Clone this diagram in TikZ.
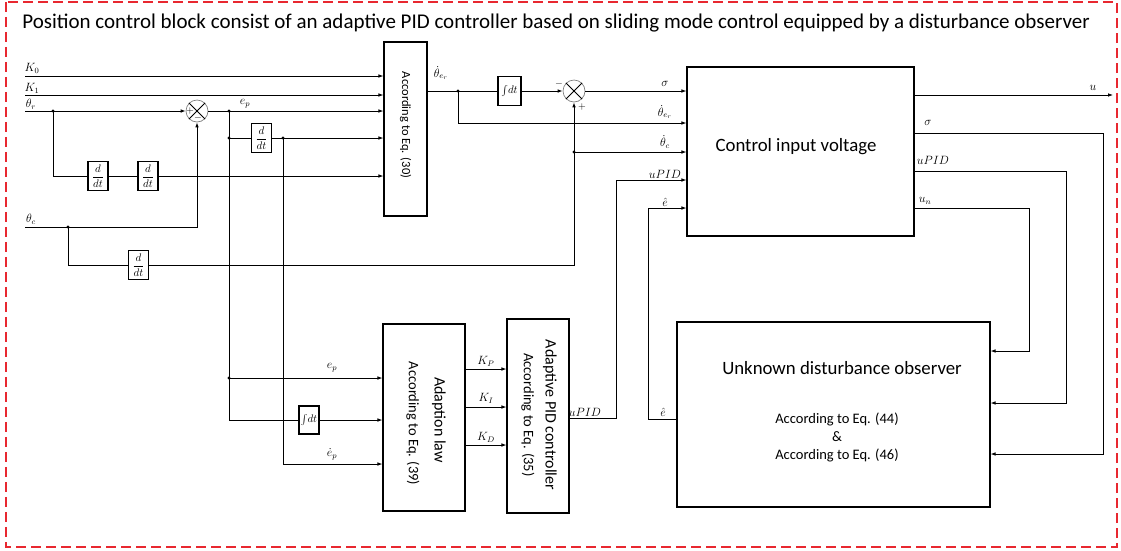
\documentclass[tikz,border=0pt]{standalone}
\usepackage{fontspec}
\setmainfont{Carlito}
\usetikzlibrary{arrows.meta,positioning}
\definecolor{framered}{RGB}{232,40,48}

\begin{document}
\begin{tikzpicture}[
    x=1pt, y=-1pt,
    line width=0.8pt,
    arr/.style={-{Latex[length=5pt,width=3.6pt]}},
    blk/.style={draw, line width=1.1pt, inner sep=0pt},
    opbox/.style={draw, line width=1.1pt, inner sep=0pt, minimum width=20pt,
        minimum height=29pt, font=\fontsize{11}{13}\selectfont},
    summer/.style={draw=gray, line width=0.7pt, circle, minimum size=22pt, inner sep=0pt},
    lbl/.style={inner sep=0pt, font=\fontsize{11.5}{13}\selectfont},
    sgn/.style={inner sep=0pt, font=\fontsize{10}{12}\selectfont},
    vtxt/.style={rotate=-90, inner sep=0pt}
]

\useasboundingbox (0,0) rectangle (1121,550);
\draw[framered, dash pattern=on 10pt off 5pt, line width=1.5pt] (6,2) rectangle (1117,547);

\node[anchor=west, inner sep=0pt, font=\fontsize{21}{25}\selectfont] (title) at (22,23)
    {Position control block consist of an adaptive PID controller based on sliding mode control equipped by a disturbance observer};


\node[blk, minimum width=43pt, minimum height=174pt] (eq30) at (405.5,129) {};
\node[vtxt, font=\fontsize{12.5}{15}\selectfont] (eq30T) at (405.5,125) {According to Eq. (30)};

\node[blk, minimum width=227pt, minimum height=169pt] (cv) at (800.5,151.5) {};
\node[inner sep=0pt, font=\fontsize{18.8}{22}\selectfont] (cvT) at (796,147) {Control input voltage};

\node[blk, minimum width=313pt, minimum height=185pt] (obs) at (833.5,414.5) {};
\node[inner sep=0pt, font=\fontsize{18.8}{22}\selectfont] (obsT) at (842,368) {Unknown disturbance observer};
\node[inner sep=0pt, align=center, font=\fontsize{14.5}{18}\selectfont] (obsS) at (837,437)
    {According to Eq. (44)\\\&\\According to Eq. (46)};

\node[blk, minimum width=82pt, minimum height=187pt] (adl) at (424,417.5) {};
\node[vtxt, font=\fontsize{16}{19}\selectfont] (adlT) at (439,420) {Adaption law};
\node[vtxt, font=\fontsize{14.5}{17}\selectfont] (adlS) at (413,423.5) {According to Eq. (39)};

\node[blk, minimum width=62pt, minimum height=194pt] (apid) at (538,416) {};
\node[vtxt, font=\fontsize{16}{19}\selectfont] (apidT) at (550,415) {Adaptive PID controller};
\node[vtxt, font=\fontsize{14.5}{17}\selectfont] (apidS) at (528,415) {According to Eq. (35)};


\node[opbox] (dd1) at (98,176) {$\displaystyle\frac{d}{dt}$};
\node[opbox] (dd2) at (148,176) {$\displaystyle\frac{d}{dt}$};
\node[opbox] (dd3) at (138.5,265) {$\displaystyle\frac{d}{dt}$};
\node[opbox] (dd4) at (261.5,138) {$\displaystyle\frac{d}{dt}$};
\node[opbox, minimum width=23pt] (int1) at (509.5,91) {$\int\! dt$};
\node[opbox, minimum height=28pt] (int2) at (309,420) {$\int\! dt$};


\node[summer] (s1) at (197,111) {};
\draw (s1.north west) -- (s1.south east) (s1.north east) -- (s1.south west);
\node[sgn] (s1p) at (190,111) {$+$};
\node[sgn] (s1m) at (198,118) {$-$};

\node[summer] (s2) at (574,91) {};
\draw (s2.north west) -- (s2.south east) (s2.north east) -- (s2.south west);
\node[sgn] (s2m) at (559,84) {$-$};
\node[sgn] (s2p) at (582,107) {$+$};


\coordinate (inK0) at (25,76);
\coordinate (inK1) at (25,95);
\coordinate (inTr) at (25,111);
\coordinate (inTc) at (25,227);
\coordinate (outU) at (1113,95);

\coordinate (jTr) at (53,111);
\coordinate (jTc) at (68,227);
\coordinate (jEp) at (229,111);
\coordinate (jEp2) at (229,138);
\coordinate (jDEp) at (283,138);
\coordinate (jEp3) at (229,378);
\coordinate (jEr) at (458,91);
\coordinate (jTcd) at (574,152);

\foreach \j in {jTr,jTc,jEp,jEp2,jDEp,jEp3,jEr,jTcd}
    \fill (\j) circle (1.6pt);


\draw[arr] (inK0) -- (inK0 -| eq30.west);
\draw[arr] (inK1) -- (inK1 -| eq30.west);
\draw[arr] (inTr) -- (s1.west);
\draw (jTr) |- (dd1.west);
\draw (dd1.east) -- (dd2.west);
\draw[arr] (dd2.east) -- (dd2.east -| eq30.west);
\draw[arr] (inTc) -| (s1.south);
\draw (jTc) |- (dd3.west);
\draw[arr] (dd3.east) -| (s2.south);
\draw[arr] (jTcd) -- (jTcd -| cv.west);

\draw[arr] (s1.east) -- (s1.east -| eq30.west);
\draw (jEp) |- (int2.west);
\draw (jEp2) -- (dd4.west);
\draw[arr] (dd4.east) -- (dd4.east -| eq30.west);
\draw[arr] (jEp3) -- (jEp3 -| adl.west);
\draw[arr] (int2.east) -- (int2.east -| adl.west);
\draw[arr] (jDEp) |- (adl.west |- 0,464);

\draw (eq30.east |- jEr) -- (int1.west);
\draw[arr] (int1.east) -- (s2.west);
\draw[arr] (s2.east) -- (s2.east -| cv.west);
\draw[arr] (jEr) |- (cv.west |- 0,123);

\foreach \y/\k in {369/P, 407/I, 445/D}
    \draw[arr] (adl.east |- 0,\y) -- (apid.west |- 0,\y);

\coordinate (oPID) at (apid.east |- 0,418);
\coordinate (bPID) at (616,180);
\draw[arr] (oPID) -| (bPID) -- (bPID -| cv.west);

\coordinate (oEh) at (obs.west |- 0,419);
\coordinate (bEh) at (648,208);
\draw[arr] (oEh) -| (bEh) -- (bEh -| cv.west);

\draw[arr] (cv.east |- outU) -- (outU);
\coordinate (rSig) at (1103,133);
\draw[arr] (cv.east |- rSig) -- (rSig) |- (obs.east |- 0,454);
\coordinate (rPID) at (1066,171);
\draw[arr] (cv.east |- rPID) -- (rPID) |- (obs.east |- 0,403);
\coordinate (rUn) at (1029,208);
\draw[arr] (cv.east |- rUn) -- (rUn) |- (obs.east |- 0,351);


\node[lbl] (lK0) at (32,68) {$K_0$};
\node[lbl] (lK1) at (32,88) {$K_1$};
\node[lbl] (lTr) at (31,104) {$\theta_r$};
\node[lbl] (lTc) at (31,219) {$\theta_c$};
\node[lbl] (lEp) at (245,104) {$e_p$};
\node[lbl] (lEr) at (441,73) {$\dot\theta_{e_r}$};

\node[lbl] (lSig) at (665,84) {$\sigma$};
\node[lbl] (lEr2) at (665,112) {$\dot\theta_{e_r}$};
\node[lbl] (lTcd) at (665,142) {$\dot\theta_c$};
\node[lbl] (lPID) at (665,174) {$uPID$};
\node[lbl] (lEh) at (665,202) {$\hat e$};

\node[lbl] (lU) at (1093,88) {$u$};
\node[lbl] (lSig2) at (928,123) {$\sigma$};
\node[lbl] (lPID2) at (933,160) {$uPID$};
\node[lbl] (lUn) at (925,201) {$u_n$};

\node[lbl] (lEp2) at (332,368) {$e_p$};
\node[lbl] (lDEp) at (332,454) {$\dot e_p$};
\foreach \y/\k in {361/P, 398/I, 437/D}
    \node[lbl] (lK\k) at (486,\y) {$K_\k$};
\node[lbl] (lPID3) at (585,412) {$uPID$};
\node[lbl] (lEh2) at (663,412) {$\hat e$};

\end{tikzpicture}
\end{document}
